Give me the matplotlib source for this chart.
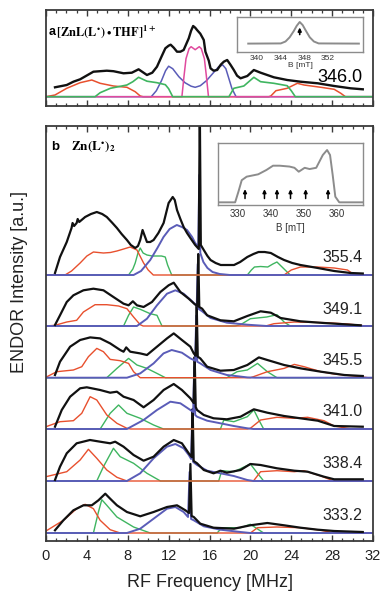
import matplotlib
matplotlib.use("Agg")
import matplotlib.pyplot as plt
from matplotlib.ticker import MultipleLocator

plt.rcParams['font.family'] = ['Liberation Sans', 'DejaVu Sans']
plt.rcParams['mathtext.fontset'] = 'stix'

# ---------------- DATA ----------------
# Panel a: [ZnL(L*)THF]1+ at 346.0 mT  (x = RF frequency MHz, y = intensity a.u.)
a_field = "346.0"
a_black = [(0.88,9.4),(2.03,11.7),(2.68,15),(3.34,17.4),(4.64,25),(5.95,26),(6.6,25.5),(7.59,23.4),(8.4,24),
           (9.06,27.4),(9.88,21.7),(10.4,24),(10.86,30),(11.3,40),(11.68,48.4),(12.0,51),(12.2,52),(12.5,49),
           (12.82,45),(13.15,45),(13.47,46.7),(13.97,58.4),(14.2,66),(14.4,70.7),(14.6,69),(14.78,66.7),
           (15.1,63),(15.44,56.7),(15.6,45),(15.93,36),(16.1,28.4),(16.4,26),(16.75,26.7),(17.1,32),(17.4,35),
           (17.73,36.7),(18.05,32),(18.38,26.7),(18.7,21),(19.04,18.4),(19.7,20.7),(20.34,26.7),(21.0,24),
           (22.3,19.4),(23.6,16.7),(24.9,15),(26.6,13.4),(28.2,10.7),(29.8,8.4),(31.0,7.4)]
a_red = [(0,0),(0.88,1.7),(2.03,8.4),(3.34,14),(4.48,16.7),(5.3,13.4),(6.6,10.7),(7.92,9.4),(8.73,5),(9.22,0.7),
         (9.5,0),(21.8,0),(22.0,0.7),(22.5,6),(23.6,8.4),(24.6,13.4),(25.25,11.7),(26.9,9.4),(28.2,7.4),
         (28.85,3.4),(29.3,0),(32,0)]
a_green = [(0,0),(4.8,0),(5.3,4),(6.3,8.4),(7.92,11.7),(8.5,15),(9.06,19.4),(9.88,15.5),(10.86,14),(11.68,12),
           (12.0,8),(12.4,0),(17.9,0),(18.38,8.4),(19.36,10.7),(20.34,19.4),(21.0,15),(22.3,13.4),(23.6,11),
           (24.0,6),(24.4,0),(32,0)]
a_blue = [(0,0),(10.3,0),(10.8,6),(11.3,16),(11.7,26),(12.0,30.5),(12.4,28),(13.0,20),(13.6,14),(14.2,10.5),
          (14.6,9.4),(15.1,11),(15.7,16),(16.3,23),(16.9,30),(17.3,31.7),(17.6,28),(17.9,18),(18.2,8),(18.6,0),(32,0)]
a_magenta = [(0,0),(13.3,0),(13.5,20),(13.7,38),(14.0,48),(14.2,50),(14.4,48.5),(14.6,47),(14.8,48.5),
             (15.0,50),(15.2,48),(15.5,38),(15.7,20),(15.9,0),(32,0)]

# Panel a inset: EPR spectrum (B in mT, relative intensity)
inset_a_B = [338.5,344.0,344.8,345.5,346.2,346.7,347.2,347.7,348.2,348.9,349.6,350.4,357.2]
inset_a_I = [0.24,0.245,0.30,0.42,0.60,0.75,0.857,0.77,0.62,0.42,0.30,0.245,0.24]
inset_a_arrow = 347.2

# Panel b: Zn(L*)2 at six fields
fields_b = ["333.2","338.4","341.0","345.5","349.1","355.4"]
offsets_b = [0, 52, 104, 155.3, 207, 258]

b3332_black = [(0.88,2.7),(1.7,12.7),(2.68,22.7),(3.66,27.7),(4.48,27.7),(5.13,32.7),(5.8,39.3),(6.28,34.3),
               (6.94,27.7),(7.92,21),(9.22,16.7),(10.53,21),(11.84,26),(12.82,27.7),(13.64,22.7),(14.0,20),
               (14.13,69),(14.25,17),(14.46,16),(15.1,9.3),(16.4,5.3),(18.4,4.3),(20.0,7.7),(21.66,10),
               (23.3,7.7),(24.9,5.3),(26.6,3.3),(28.2,2),(31,1)]
b3332_red = [(0,2),(1.7,12.7),(3.0,24.3),(3.83,28.7),(4.64,24.3),(5.3,12.7),(6.28,3.3),(7.26,0),(20.0,0),
             (20.7,5.3),(22.6,6),(24.9,5.3),(26.9,2.7),(28.2,0),(32,0)]
b3332_green = [(0,0),(4.64,0),(5.13,21),(5.46,33.3),(5.95,27.7),(6.94,16),(8.57,6),(10.2,0),(16.75,0),
               (17.2,5.3),(19.04,5.3),(20.0,8.7),(21.3,0),(32,0)]
b3332_blue = [(0,0),(7.92,0),(9.22,4.3),(10.53,14.3),(11.84,24.3),(12.66,26),(13.47,21),(13.9,16),(14.05,61),
              (14.2,14),(14.46,12.7),(15.44,6.7),(17.07,3.3),(19.04,1),(20,0),(32,0)]

b3384_black = [(0.88,1),(1.37,14.3),(2.03,27.7),(3.0,37.7),(4.3,41),(5.3,39.3),(6.28,37.7),(6.77,39.3),
               (7.59,34.3),(8.57,26),(9.55,20.3),(10.53,24.3),(11.51,34.3),(12.5,41),(13.3,37.7),(13.97,27.7),
               (14.25,24),(14.35,72),(14.45,20),(14.78,17.7),(15.44,11),(16.4,7.7),(17.07,10.3),(17.7,8.3),
               (19.04,11),(20.0,17),(21.0,16),(22.6,12.7),(24.3,10.3),(25.6,9.3),(27.2,4.3),(28.2,1.7),(31.0,1.7)]
b3384_red = [(0,4.3),(2.03,9.3),(3.34,21),(4.15,31.7),(4.97,22.7),(5.95,11),(6.94,3.7),(7.92,0),(20.3,0),
             (21.0,9.3),(22.6,10.3),(24.3,9.3),(25.25,10.3),(26.9,5),(27.9,1),(28.3,0),(32,0)]
b3384_green = [(0,0),(4.97,0),(5.62,14.3),(6.6,32.7),(7.26,24.3),(8.57,17.7),(9.88,7.7),(11.2,0),(16.9,0),
               (17.2,10.3),(18.4,9.3),(20.0,17),(20.7,7.7),(21.3,0),(32,0)]
b3384_blue = [(0,0),(7.92,0),(9.22,7.7),(10.53,22.7),(11.84,34.3),(12.66,37),(13.47,32.7),(13.97,26),
              (14.2,22),(14.3,62),(14.4,19),(14.78,16),(15.77,10.3),(17.07,7.7),(18.38,5),(19.7,1),(20.3,0),(32,0)]

b3410_black = [(0.88,2.3),(1.54,19),(2.36,32.3),(3.34,40.7),(3.99,41.7),(5.3,39),(6.28,36.3),(6.94,37.3),
               (7.59,32.3),(8.57,29),(9.55,21.7),(10.53,29),(11.51,39),(12.5,45),(13.3,39),(14.13,30.7),
               (14.45,26),(14.55,72),(14.65,22),(14.78,19),(15.44,14),(16.4,10.7),(17.7,9.7),(19.04,12.3),
               (20.34,19.7),(21.66,16.3),(23.3,13),(24.9,10.7),(26.6,8.3),(28.2,3),(31.0,2.3)]
b3410_red = [(0,2.3),(1.37,7.3),(2.68,8.3),(3.5,15.7),(4.32,32.3),(4.97,29),(5.95,14),(6.94,5.7),(7.92,0.7),
             (8.3,0),(19.7,0),(20.0,0.7),(21.0,9),(22.6,11.7),(24.3,10.7),(25.6,11.7),(27.2,8.3),(28.2,3),
             (29.5,0.7),(30,0),(32,0)]
b3410_green = [(0,0),(5.3,0),(6.28,15.7),(7.1,24),(7.92,15.7),(9.22,10.7),(10.53,4),(11.5,0),(17.07,0),
               (17.4,9),(18.38,7.3),(19.7,12.3),(20.34,19),(20.83,9),(21.3,0),(32,0)]
b3410_blue = [(0,0),(7.92,0),(9.55,9),(10.86,19),(12.17,27.3),(13.15,25.7),(14.13,19),(14.4,17),(14.5,62),
              (14.6,14),(14.78,12.3),(15.77,8.3),(17.07,5.7),(18.38,3),(19.7,0.7),(20.3,0),(32,0)]

b3455_black = [(0.88,2.7),(1.37,16),(2.36,31),(3.34,37.7),(4.32,40.3),(5.3,39.3),(6.28,34.3),(7.26,27.7),
               (7.59,26),(7.85,30.3),(8.24,26),(9.22,24.3),(9.88,22.7),(10.86,31),(11.84,39.3),(12.5,44.3),
               (13.3,37.7),(14.13,31),(14.46,24.3),(14.65,22),(14.75,72),(14.85,21),(15.1,19.3),(15.77,11),
               (17.07,7),(18.38,7.7),(19.7,12.7),(20.83,20.3),(21.66,17.7),(23.3,12.7),(24.93,9.3),(26.9,6),
               (29.2,2.7),(31.0,1.7)]
b3455_red = [(0,0.5),(1.05,6),(2.68,7.7),(3.5,11),(4.15,21),(4.97,29.3),(5.62,26),(6.28,18.3),(7.26,17),
             (8.08,14.3),(8.57,6),(9.22,0),(20.0,0),(20.3,1),(21.66,6),(23.3,9.3),(24.3,13.3),(25.25,11),
             (26.9,6),(28.2,3.7),(30.8,1),(31.5,0),(32,0)]
b3455_green = [(0,0),(5.95,0),(6.94,9.3),(8.08,19.3),(8.9,12.7),(9.88,9.3),(10.86,4.3),(11.68,0),(17.7,0),
               (18.7,6),(19.7,7.7),(20.7,14.3),(21.66,6),(22.6,0),(32,0)]
b3455_blue = [(0,0),(7.92,0),(9.22,4.3),(10.53,14.3),(11.5,24.3),(12.3,27.7),(13.3,25),(14.13,19.3),
              (14.6,17),(14.7,62),(14.8,16),(15.1,14.3),(16.1,7.7),(17.7,2.7),(19.7,0.3),(20.5,0),(32,0)]

b3491_black = [(0.88,1),(1.37,10.7),(2.03,24),(2.68,30.7),(3.66,35.7),(4.64,37.3),(5.62,35.7),(6.6,29),
               (7.59,22.3),(8.08,20.7),(8.5,24.7),(8.9,20.7),(9.55,19),(10.37,24),(11.19,34),(12.0,40.7),
               (12.5,43.3),(13.15,34),(13.97,27.3),(14.5,22.3),(14.8,20),(14.9,72),(15.0,19),(15.28,17.3),
               (15.77,10.7),(17.07,5.7),(18.38,4.7),(19.7,10),(21.0,14.7),(22.0,13.3),(22.96,8),(24.9,4.7),
               (27.2,3),(30.8,0.7)]
b3491_red = [(0,0),(0.88,0.7),(2.03,4),(3.0,5.7),(3.66,14),(4.8,21.3),(5.95,21.3),(7.1,20),(7.92,17.3),
             (8.57,9),(9.22,1.3),(9.5,0),(21.5,0),(22.3,2.3),(24.3,4),(27.5,3.3),(29.5,2),(30.8,0.7),(31.2,0),(32,0)]
b3491_green = [(0,0),(7.59,0),(8.08,10.7),(8.57,19),(9.22,16.7),(10.2,12.3),(10.86,10.7),(11.35,0),(18.5,0),
               (19.04,1.3),(20.0,7.3),(21.6,9),(22.6,11.3),(23.3,4),(23.9,0),(32,0)]
b3491_blue = [(0,0),(8.9,0),(9.88,7.3),(10.86,20.7),(11.84,32.3),(12.66,35.7),(13.47,32.3),(14.3,24.7),
              (14.75,20),(14.85,62),(14.95,17),(15.28,14.7),(16.1,8),(17.7,3.3),(19.7,1.3),(21.6,0),(32,0)]

b3554_black = [(0.88,2),(1.37,18),(2.03,33),(2.5,47),(2.6,52),(2.75,49),(3.0,52),(3.1,56),(3.25,53),(3.83,58),
               (4.4,61),(4.97,63),(5.5,61),(5.95,58),(6.5,52),(6.94,47),(7.4,41),(7.92,35),(8.3,30),(8.73,27),
               (9.0,29),(9.22,35),(9.45,45),(9.7,38),(9.88,33),(10.2,33),(10.53,35),(11.0,42),(11.51,52),
               (12.0,72),(12.4,78),(12.6,75),(12.82,65),(13.15,56),(13.47,48),(13.8,42),(14.13,37),(14.6,30),
               (14.95,26),(15.05,170),(15.15,30),(15.44,25),(15.8,19),(16.1,15),(16.6,12),(17.1,10),(18.4,10),
               (19.0,13),(19.7,18),(20.3,21),(20.8,23),(21.4,23),(22.0,22),(22.7,18),(23.3,15),(24.1,12),
               (24.9,10),(26.6,7),(28.2,4),(29.8,2),(31.0,1.5)]
b3554_red = [(0,0),(1.86,0),(2.5,4),(3.34,12),(4.0,19),(4.64,23),(5.62,22),(6.3,22.5),(6.94,24),(7.6,26),
             (8.24,28),(8.9,25),(9.2,19),(9.55,12),(10.0,5),(10.5,0),(23.3,0),(24.0,5),(24.9,8),(26.6,8),
             (28.2,7),(29.5,5),(30.2,0),(32,0)]
b3554_green = [(0,0),(8.08,0),(8.5,6),(8.73,12),(9.0,22),(9.22,27),(9.5,22),(9.88,20),(10.4,19),(10.86,19),
               (11.3,19),(11.67,18),(11.9,10),(12.3,0),(19.7,0),(20.1,5),(20.4,8),(21.0,8.5),(21.7,8),(22.2,11),
               (22.6,13),(22.9,10),(23.3,6),(23.9,0),(32,0)]
b3554_blue = [(0,0),(8.57,0),(9.3,4),(10.2,15),(10.9,27),(11.5,38),(12.1,46),(12.8,50),(13.3,48),(13.8,45),
              (14.3,38),(14.6,32),(14.9,28),(15.0,100),(15.1,22),(15.4,13),(15.8,7),(16.3,3),(17.0,1),(18.0,0),(32,0)]

b_black = [b3332_black, b3384_black, b3410_black, b3455_black, b3491_black, b3554_black]
b_red = [b3332_red, b3384_red, b3410_red, b3455_red, b3491_red, b3554_red]
b_green = [b3332_green, b3384_green, b3410_green, b3455_green, b3491_green, b3554_green]
b_blue = [b3332_blue, b3384_blue, b3410_blue, b3455_blue, b3491_blue, b3554_blue]

# Panel b inset: EPR spectrum
inset_b_B = [324.5,329.1,330.1,331.1,332.6,336.1,338.6,340.6,342.6,345.6,347.1,348.4,350.2,351.7,353.7,
             355.7,357.0,357.9,358.7,359.5,360.7,367.7]
inset_b_I = [0.043,0.043,0.215,0.40,0.457,0.495,0.565,0.634,0.634,0.62,0.60,0.537,0.60,0.58,0.60,
             0.806,0.887,0.806,0.484,0.134,0.043,0.043]
inset_b_arrows = [332.1,338.0,341.8,345.9,350.5,357.3]

# ---------------- STYLE ----------------
C_BLACK = '#111111'
C_RED = '#e8502e'
C_GREEN = '#3fb560'
C_BLUE = '#5a5cb8'
C_MAG = '#e04a9e'
C_SPINE = '#3a3a3a'
C_INSET = '#8c8c8c'

W, H = 383, 595
fig = plt.figure(figsize=(W/100, H/100), dpi=100)

def frac_box(x0, y0, x1, y1):
    return [x0/W, 1 - y1/H, (x1-x0)/W, (y1-y0)/H]

def xy(pts, off=0.0):
    return [p[0] for p in pts], [p[1] + off for p in pts]

def style_main(ax):
    ax.set_xlim(0, 32)
    ax.xaxis.set_major_locator(MultipleLocator(4))
    ax.xaxis.set_minor_locator(MultipleLocator(1))
    ax.tick_params(axis='x', which='both', direction='in', top=True, bottom=True, color=C_SPINE)
    ax.tick_params(axis='x', which='major', length=4.5, width=1.0)
    ax.tick_params(axis='x', which='minor', length=2.5, width=0.9)
    ax.set_yticks([])
    for s in ax.spines.values():
        s.set_color(C_SPINE)
        s.set_linewidth(1.3)

# ---- panel a ----
axa = fig.add_axes(frac_box(46, 10, 373, 106))
style_main(axa)
axa.set_ylim(-9.3, 86.7)
axa.tick_params(axis='x', labelbottom=False)
axa.plot(*xy(a_red), color=C_RED, lw=1.1)
axa.plot(*xy(a_blue), color=C_BLUE, lw=1.1)
axa.plot(*xy(a_magenta), color=C_MAG, lw=1.1)
axa.plot(*xy(a_green), color=C_GREEN, lw=1.2)
axa.plot(*xy(a_black), color=C_BLACK, lw=1.7)
axa.text(31.0, 18.7, a_field, ha='right', va='center', fontsize=13)
axa.text(0.25, 64.5, 'a', ha='left', va='center', fontsize=9, fontweight='bold')
axa.text(0.95, 64.5, r'$\mathbf{[ZnL(L}^{\bullet}\mathbf{)}\bullet\mathbf{THF]}^{\mathbf{1+}}$',
         ha='left', va='center', fontsize=9)

# inset a
ia = fig.add_axes(frac_box(237, 17, 363, 52))
ia.plot(inset_a_B, inset_a_I, color=C_INSET, lw=1.4)
ia.set_xlim(336.6, 357.9)
ia.set_ylim(0, 1)
ia.set_yticks([])
ia.set_xticks([340, 344, 348, 352])
ia.tick_params(axis='x', length=0, pad=2, labelsize=6, labelcolor='#333333')
ia.set_xlabel('B [mT]', fontsize=6, labelpad=0, color='#333333')
for s in ia.spines.values():
    s.set_color(C_INSET); s.set_linewidth(1.0)
ia.annotate('', xy=(inset_a_arrow, 0.78), xytext=(inset_a_arrow, 0.42),
            arrowprops=dict(arrowstyle='-|>', color='k', lw=1.2, mutation_scale=5))

# ---- panel b ----
axb = fig.add_axes(frac_box(46, 126, 373, 541))
style_main(axb)
axb.set_ylim(-8, 407)
axb.tick_params(axis='x', labelsize=10.5, pad=6, labelcolor='#222222')
for i, f in enumerate(fields_b):
    off = offsets_b[i]
    axb.plot(*xy(b_green[i], off), color=C_GREEN, lw=1.0)
    axb.plot(*xy(b_red[i], off), color=C_RED, lw=1.0)
    axb.plot(*xy(b_blue[i], off), color=C_BLUE, lw=1.4)
    axb.plot(*xy(b_black[i], off), color=C_BLACK, lw=1.6)
    axb.text(31.0, off + 17, f, ha='right', va='center', fontsize=11.5, color='#222222')
axb.text(0.5, 386, 'b', ha='left', va='center', fontsize=9.5, fontweight='bold')
axb.text(2.4, 386, r'$\mathbf{Zn(L}^{\bullet}\mathbf{)}_{\mathbf{2}}$', ha='left', va='center', fontsize=9.5)
axb.set_xlabel('RF Frequency [MHz]', fontsize=13, labelpad=8, color='#222222')

# inset b
ib = fig.add_axes(frac_box(218, 143, 363, 205))
ib.plot(inset_b_B, inset_b_I, color=C_INSET, lw=1.4)
ib.set_xlim(323.9, 367.9)
ib.set_ylim(0, 1)
ib.set_yticks([])
ib.set_xticks([330, 340, 350, 360])
ib.tick_params(axis='x', length=0, pad=3, labelsize=7, labelcolor='#333333')
ib.set_xlabel('B [mT]', fontsize=7, labelpad=3, color='#333333')
for s in ib.spines.values():
    s.set_color(C_INSET); s.set_linewidth(1.0)
for b in inset_b_arrows:
    ib.annotate('', xy=(b, 0.30), xytext=(b, 0.06),
                arrowprops=dict(arrowstyle='-|>', color='k', lw=1.1, mutation_scale=5))

fig.text(20/W, 1 - 282/H, 'ENDOR Intensity [a.u.]', rotation=90, ha='center', va='center',
         fontsize=13, color='#222222')

fig.savefig('out.png', dpi=100)
